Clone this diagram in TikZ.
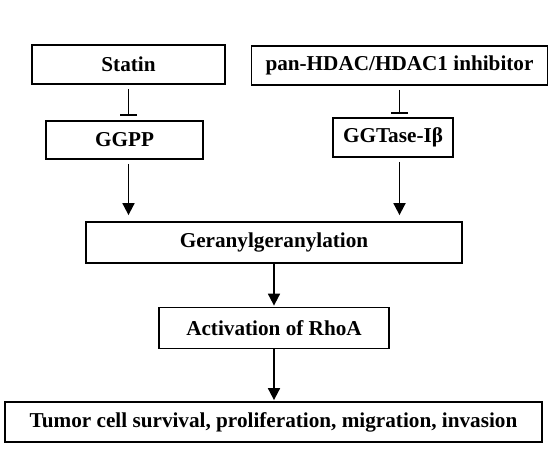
\documentclass[tikz,border=0pt]{standalone}
\usepackage{fontspec}
\setmainfont{Liberation Serif}
\usetikzlibrary{arrows.meta}
\tikzset{
  box/.style={draw, line width=1.8pt, inner sep=0pt, font=\fontsize{21.2}{25}\selectfont\bfseries},
  act/.style={line width=1.8pt, -{Triangle[length=12pt,width=12pt]}},
  inhib/.style={line width=1.8pt, -{Bar[width=17pt,line width=1.8pt]}}
}
\begin{document}
\begin{tikzpicture}[x=1pt,y=-1pt]
      \useasboundingbox (0,0) rectangle (550,450);
      \node[box, minimum width=193pt, minimum height=39pt] (statin) at (128.5,64.5) {Statin};
      \node[box, minimum width=296pt, minimum height=39pt] (hdac) at (399.5,65.5) {pan-HDAC/HDAC1 inhibitor};
      \node[box, minimum width=157pt, minimum height=38pt] (ggpp) at (124.5,140) {GGPP};
      \node[box, minimum width=120pt, minimum height=39pt] (ggt) at (393,137.5) {GGTase-Iβ};
      \node[box, minimum width=376pt, minimum height=41pt] (ger) at (274,242.5) {Geranylgeranylation};
      \node[box, minimum width=230pt, minimum height=41pt] (rhoa) at (274,328) {Activation of RhoA};
      \node[box, minimum width=537pt, minimum height=40pt] (tumor) at (273.5,422) {Tumor cell survival, proliferation, migration, invasion};
      \begin{scope}[shorten <=4pt]
        \draw[inhib, shorten >=4pt] (statin.south) to (statin.south |- ggpp.north);
        \draw[inhib, shorten >=3pt] (hdac.south) to (hdac.south |- ggt.north);
        \draw[act, shorten >=6pt] (ggpp.south -| statin.south) to (statin.south |- ger.north);
        \draw[act, shorten >=6pt] (ggt.south -| hdac.south) to (hdac.south |- ger.north);
        \draw[act, shorten <=0pt, shorten >=1pt] (ger.south) to (ger.south |- rhoa.north);
        \draw[act, shorten <=0pt, shorten >=1pt] (rhoa.south) to (rhoa.south |- tumor.north);
      \end{scope}
    \end{tikzpicture}
\end{document}
